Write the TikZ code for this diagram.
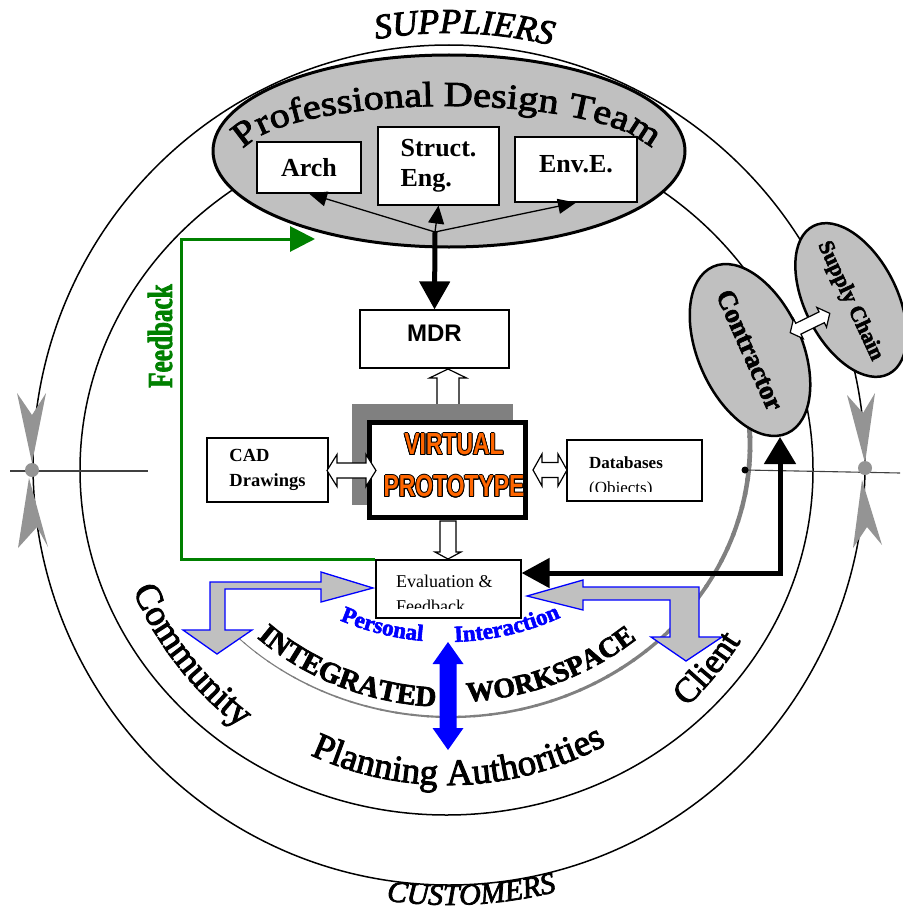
\documentclass[tikz,border=0pt]{standalone}
\usepackage{fontspec}
\setmainfont{Liberation Serif}
\setsansfont{Liberation Sans}
\newfontfamily\vpfont{Liberation Sans Bold}[FakeStretch=0.75]
\newfontfamily\fbfont{Liberation Serif Bold}[FakeStretch=0.72, FakeBold=2]
\newfontfamily\pdtfont{Liberation Serif}[FakeStretch=1.15, FakeBold=2.5]
\newfontfamily\heavyserif{Liberation Serif}[FakeBold=2.5]
\usepackage{contour}
\contourlength{0.9pt}
\usetikzlibrary{arrows.meta, calc, shapes.geometric, decorations.text}

\definecolor{silver}{HTML}{C0C0C0}
\definecolor{vporange}{HTML}{FF6600}
\definecolor{fbgreen}{HTML}{008000}
\definecolor{shadowgray}{HTML}{808080}

\tikzset{
  box/.style={draw, line width=1.2pt, fill=white, inner sep=2pt},
  hollow/.style={draw, fill=white, line width=1.2pt},
  bentarrow/.style={draw=blue, fill=silver, line width=1.3pt},
  marker/.style={fill=black!42},
  ringtext/.style={decorate, decoration={text along path, text align=center, text={#1}}},
  pics/dblarrow/.style n args={4}{code={
    \path[pic actions] (-#1,0) -- (-#1+#4,-#3) -- (-#1+#4,-#2) -- (#1-#4,-#2)
      -- (#1-#4,-#3) -- (#1,0) -- (#1-#4,#3) -- (#1-#4,#2)
      -- (-#1+#4,#2) -- (-#1+#4,#3) -- cycle;
  }}
}

\begin{document}
\begin{tikzpicture}[x=1pt, y=-1pt]
  \useasboundingbox (0,0) rectangle (902,915);
  \coordinate (rc) at (449,465);
  \coordinate (c0) at (448,455);
  \coordinate (ws) at (450,445);
  \coordinate (picen) at (447,367);

  % rings
  \draw[line width=1.5] (rc) ellipse[x radius=416, y radius=420];
  \draw[line width=1.5] (446.5,470) ellipse[x radius=366.5, y radius=345];

  % integrated workspace arc
  \foreach \a in {-20,-17,...,134}{
    \pgfmathsetmacro\wd{0.8+4.5*(137-\a)/157}
    \draw[shadowgray, line width=\wd] ($(ws)+(\a:300 and 272)$)
      arc[start angle=\a, end angle=\a+3.5, x radius=300, y radius=272];
  }

  % cross lines and markers
  \draw[line width=1.1, black!75] (10,471) -- (148,471);
  \draw[line width=1.1, black!75] (745,470) -- (900,473);
  \fill (745,470) circle[radius=3.5];
  \fill[marker] (32,470) circle[radius=7];
  \fill[marker] (865,468) circle[radius=7];
  \fill[marker] (17,393) -- (32,415) -- (46,393) -- (32,463) -- cycle;
  \fill[marker] (18,548) -- (37,527) -- (48,547) -- (29,478) -- cycle;
  \fill[marker] (847,395) -- (863,413) -- (875,393) -- (865,463) -- cycle;
  \fill[marker] (853,548) -- (867,527) -- (882,545) -- (862,480) -- cycle;

  % professional design team
  \draw[line width=3, fill=silver] (449,151) ellipse[x radius=236, y radius=96];
  \path[ringtext={|\pdtfont\fontsize{35}{35}\selectfont|Professional Design Team}]
    ($(447,158)+(180:206 and 52)$) arc[start angle=180, end angle=360, x radius=206, y radius=52];
  \node[box, font=\bfseries\fontsize{26}{30}\selectfont, minimum width=104, minimum height=51] (arch) at (309,167.5) {Arch};
  \node[box, font=\bfseries\fontsize{26}{30}\selectfont, minimum width=121, minimum height=78, align=left] (struct) at (438.5,166) {Struct.\\Eng.};
  \node[box, font=\bfseries\fontsize{26}{30}\selectfont, minimum width=122, minimum height=65, text depth=12pt] (enve) at (576,169.5) {Env.E.};
  \coordinate (hub) at (435,232);
  \draw[line width=1.3, -{Triangle[length=18pt,width=15pt]}] (hub) -- (arch.south);
  \draw[line width=1.3, -{Triangle[length=18pt,width=16pt]}] (hub) -- (struct.south);
  \draw[line width=1.3, -{Triangle[length=18pt,width=15pt]}] (hub) -- (enve.south);

  % model chain
  \node[box, font=\sffamily\bfseries\fontsize{24}{24}\selectfont, minimum width=149, minimum height=58, text depth=11pt] (mdr) at (434.5,339) {MDR};
  \draw[line width=5, -{Triangle[length=28pt,width=30pt]}] (hub) -- (mdr.north);
  \pic[hollow, rotate=90] at (448,393) {dblarrow={24}{11}{18.5}{9}};
  \fill[shadowgray] (352,404) rectangle (513,505);
  \path[hollow] (440,521) -- (456,521) -- (456,552) -- (461,552) -- (448,559) -- (435,552) -- (440,552) -- cycle;
  \node[draw, line width=5, fill=white, minimum width=156, minimum height=95] (vp) at (447.5,470) {};
  \node[font=\vpfont\fontsize{30.5}{42}\selectfont, text=vporange, align=center] (vptext) at (454,466)
    {\contour{black}{VIRTUAL}\\\contour{black}{PROTOTYPE}};
  \node[box, font=\bfseries\fontsize{18.5}{25}\selectfont, align=left, minimum width=121, minimum height=64] (cad) at (267.5,470) {CAD\\Drawings};
  \pic[hollow] at (351.5,470.5) {dblarrow={24.5}{7.5}{16}{10}};
  \node[box, minimum width=135, minimum height=61] (db) at (634.5,470.5) {};
  \begin{scope}
    \clip (568,441) rectangle (701,491);
    \node[font=\fontsize{17}{25}\selectfont, align=left, anchor=north west, inner sep=0] (dbtext) at (589,456.5) {\textbf{Databases}\\(Objects)};
  \end{scope}
  \pic[hollow] at (550,470) {dblarrow={17}{7.5}{16}{9}};
  \node[box, minimum width=145, minimum height=58] (eval) at (448.5,589) {};
  \begin{scope}
    \clip (377,561) rectangle (520,608);
    \node[font=\fontsize{18}{24.5}\selectfont, align=left, anchor=north west, inner sep=0] (evaltext) at (396,575) {Evaluation \&\\Feedback};
  \end{scope}

  % feedback loop
  \coordinate (fbtip) at (315,239);
  \draw[fbgreen, line width=3, -{Triangle[length=25pt,width=25pt]}] (eval.north west) -- ++(-194,0) |- (fbtip);
  \node[font=\fbfont\fontsize{35}{35}\selectfont, text=fbgreen, rotate=90] (fblabel) at (160,336) {Feedback};

  % personal interaction
  \path[bentarrow] (373,588) -- (321,572) -- (321,582) -- (210,582) -- (210,630) -- (183,630) -- (217,654)
    -- (252,630) -- (225,630) -- (225,589) -- (321,589) -- (321,602) -- cycle;
  \path[bentarrow] (527,596) -- (583,580) -- (583,587) -- (699,587) -- (699,637) -- (722,637) -- (686,661)
    -- (651,637) -- (670,637) -- (670,600) -- (583,600) -- (583,610) -- cycle;
  \pic[fill=blue, rotate=90] at (448,696) {dblarrow={54}{8.5}{15.5}{22}};
  \path[decorate, decoration={text along path, text align=center, text color=blue, text={|\heavyserif\bfseries\fontsize{23}{23}\selectfont|Personal}}]
    ($(picen)+(120:275)$) arc[start angle=120, end angle=88, radius=275];
  \path[decorate, decoration={text along path, text align=center, text color=blue, text={|\heavyserif\bfseries\fontsize{23}{23}\selectfont|Interaction}}]
    ($(picen)+(95:275)$) arc[start angle=95, end angle=59, radius=275];
  \path[ringtext={|\heavyserif\bfseries\fontsize{29}{29}\selectfont|INTEGRATED}]
    ($(ws)+(143:285 and 262)$) arc[start angle=143, end angle=83, x radius=285, y radius=262];
  \path[ringtext={|\heavyserif\bfseries\fontsize{28}{28}\selectfont|WORKSPACE}]
    ($(ws)+(97:285 and 257)$) arc[start angle=97, end angle=38, x radius=285, y radius=257];

  % stakeholders
  \path[ringtext={|\heavyserif\fontsize{37}{37}\selectfont|Community}]
    ($(c0)+(163:343)$) arc[start angle=163, end angle=121, radius=343];
  \path[ringtext={|\heavyserif\fontsize{37}{37}\selectfont|Planning Authorities}]
    ($(c0)+(119:330)$) arc[start angle=119, end angle=57, radius=330];
  \path[ringtext={|\heavyserif\fontsize{35}{35}\selectfont|Client}]
    ($(c0)+(51:347)$) arc[start angle=51, end angle=28, radius=347];

  % contractor and supply chain
  \coordinate (cfoot) at (780,437);
  \draw[line width=5, {Triangle[length=28pt,width=29pt]}-{Triangle[length=27pt,width=31pt]}] ([yshift=16pt]eval.east) -| (cfoot);
  \node[draw, ellipse, fill=silver, line width=2.5, minimum width=176, minimum height=104, inner sep=0, rotate=-66,
    font=\heavyserif\bfseries\fontsize{27}{27}\selectfont] (contractor) at (750,350) {Contractor};
  \node[draw, ellipse, fill=silver, line width=2.5, minimum width=166, minimum height=92, rotate=-63] (supply) at (851,300) {};
  \node[font=\heavyserif\bfseries\fontsize{22}{22}\selectfont, rotate=-65] (supplytext) at (850,301) {Supply Chain};
  \pic[hollow, rotate=26] at (810,323) {dblarrow={22}{6}{11}{9}};

  % outer ring labels
  \path[ringtext={|\heavyserif\itshape\fontsize{35}{35}\selectfont|SUPPLIERS}]
    ($(rc)+(-114:432)$) arc[start angle=-114, end angle=-62, radius=432];
  \path[ringtext={|\heavyserif\itshape\fontsize{30}{30}\selectfont|CUSTOMERS}]
    ($(rc)+(112:440)$) arc[start angle=112, end angle=62, radius=440];
\end{tikzpicture}
\end{document}
